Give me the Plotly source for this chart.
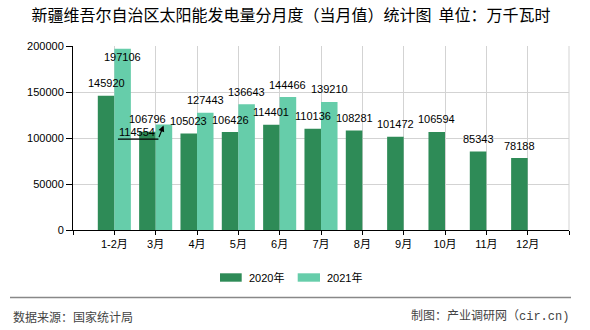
import plotly.graph_objects as go

categories = ["1-2月", "3月", "4月", "5月", "6月", "7月", "8月", "9月", "10月", "11月", "12月"]
values_2020 = [145920, 106796, 105023, 106426, 114401, 110136, 108281, 101472, 106594, 85343, 78188]
values_2021 = [197106, 114554, 127443, 136643, 144466, 139210, None, None, None, None, None]
series_names = ["2020年", "2021年"]
y_ticks = [0, 50000, 100000, 150000, 200000]
callout_index = 1  # 3月 2021 value shown with arrow callout

W, H = 590, 330
ML, MR, MT, MB = 73, 21, 46, 100
PW, PH = W - ML - MR, H - MT - MB
YMAX = 200000
UPP = YMAX / PH  # data units per pixel

C2020 = "#2E8B57"
C2021 = "#66CDAA"
TICKFONT = dict(family="Liberation Sans, Arial, Noto Sans CJK SC", size=11, color="#000000")
CJK = "Noto Sans CJK SC, Liberation Sans"

def px_x(px):
    return (px - ML) / PW

def px_y(py):
    return (H - MB - py) / PH

idx = list(range(len(categories)))

fig = go.Figure()
fig.add_trace(go.Bar(x=idx, y=values_2020, name=series_names[0], marker=dict(color=C2020, line=dict(width=0)), showlegend=False))
fig.add_trace(go.Bar(x=idx, y=values_2021, name=series_names[1], marker=dict(color=C2021, line=dict(width=0)), showlegend=False))

annotations = []
shapes = []

# data labels
for series, off in ((values_2020, -0.2), (values_2021, 0.2)):
    for i, v in enumerate(series):
        if v is None:
            continue
        if series is values_2021 and i == callout_index:
            continue
        ly = min(v + 12.5 * UPP, YMAX - 10.7 * UPP)
        annotations.append(dict(x=i + off, y=ly, xref="x", yref="y", text=str(v), showarrow=False,
                                xanchor="center", yanchor="middle", font=TICKFONT))

# callout for 3月 2021
cv = values_2021[callout_index]
cx = callout_index + 0.2
annotations.append(dict(x=cx, y=cv, xref="x", yref="y", text=str(cv), showarrow=False,
                        xanchor="center", yanchor="middle", xshift=-27, yshift=-7.5, font=TICKFONT))
annotations.append(dict(x=cx, y=cv, xref="x", yref="y", text="", showarrow=True,
                        ax=-5.5, ay=14, axref="pixel", ayref="pixel",
                        arrowhead=2, arrowsize=1, arrowwidth=1.2, arrowcolor="#000000", standoff=1))
shapes.append(dict(type="line", xref="x", yref="y", xsizemode="pixel", ysizemode="pixel",
                   xanchor=cx, yanchor=cv, x0=-46, x1=-5.5, y0=-14.5, y1=-14.5,
                   line=dict(color="#000000", width=1.2)))

# right border (gray)
shapes.append(dict(type="line", xref="paper", yref="paper", x0=1, x1=1, y0=0, y1=1,
                   line=dict(color="#d3d3d3", width=1), layer="below"))

# custom legend
leg = [(220, 241.7, 247, C2020, series_names[0]), (297.7, 320, 325, C2021, series_names[1])]
for sx0, sx1, tx, col, name in leg:
    shapes.append(dict(type="rect", xref="paper", yref="paper", x0=px_x(sx0), x1=px_x(sx1),
                       y0=px_y(281.7), y1=px_y(273.3), fillcolor=col, line=dict(width=0)))
    annotations.append(dict(x=px_x(tx), y=px_y(277.5), xref="paper", yref="paper", text=name,
                            showarrow=False, xanchor="left", yanchor="middle",
                            font=dict(family="Liberation Sans, Noto Sans CJK SC", size=11, color="#000000")))

# footer separator
shapes.append(dict(type="line", xref="paper", yref="paper", x0=px_x(10), x1=px_x(571),
                   y0=px_y(297.5), y1=px_y(297.5), line=dict(color="#888888", width=1.5)))
annotations.append(dict(x=px_x(11), y=px_y(316), xref="paper", yref="paper", text="数据来源：国家统计局",
                        showarrow=False, xanchor="left", yanchor="middle",
                        font=dict(family=CJK, size=12, color="#444444")))
annotations.append(dict(x=px_x(571), y=px_y(316), xref="paper", yref="paper", text="制图：产业调研网（cir.cn)",
                        showarrow=False, xanchor="right", yanchor="middle",
                        font=dict(family="Liberation Mono, Noto Sans CJK SC", size=12, color="#444444")))

tickvals = list(range(-1, len(categories) + 1))
ticktext = [""] + categories + [""]

fig.update_layout(
    width=W, height=H,
    margin=dict(l=ML, r=MR, t=MT, b=MB, pad=0),
    paper_bgcolor="#ffffff", plot_bgcolor="#ffffff",
    barmode="group", bargap=0.2, bargroupgap=0,
    showlegend=False,
    title=dict(text="新疆维吾尔自治区太阳能发电量分月度（当月值）统计图  单位：万千瓦时",
               x=291 / W, y=1 - 15 / H, xref="container", yref="container",
               xanchor="center", yanchor="middle",
               font=dict(family=CJK, size=16, color="#000000")),
    xaxis=dict(range=[-1, len(categories)], tickmode="array", tickvals=tickvals, ticktext=ticktext,
               showgrid=True, gridcolor="#d3d3d3", gridwidth=1,
               showline=True, linecolor="#000000", linewidth=1,
               ticks="outside", ticklen=4, tickcolor="#000000", tickwidth=1,
               tickfont=TICKFONT, zeroline=False, fixedrange=True),
    yaxis=dict(range=[0, YMAX], tickmode="array", tickvals=y_ticks, ticktext=[str(v) for v in y_ticks],
               showgrid=True, gridcolor="#d3d3d3", gridwidth=1,
               showline=True, linecolor="#000000", linewidth=1,
               ticks="outside", ticklen=6, tickcolor="#000000", tickwidth=1,
               tickfont=TICKFONT, zeroline=False, fixedrange=True),
    annotations=annotations,
    shapes=shapes,
)

fig.write_html("out.html", config={"displayModeBar": False})
